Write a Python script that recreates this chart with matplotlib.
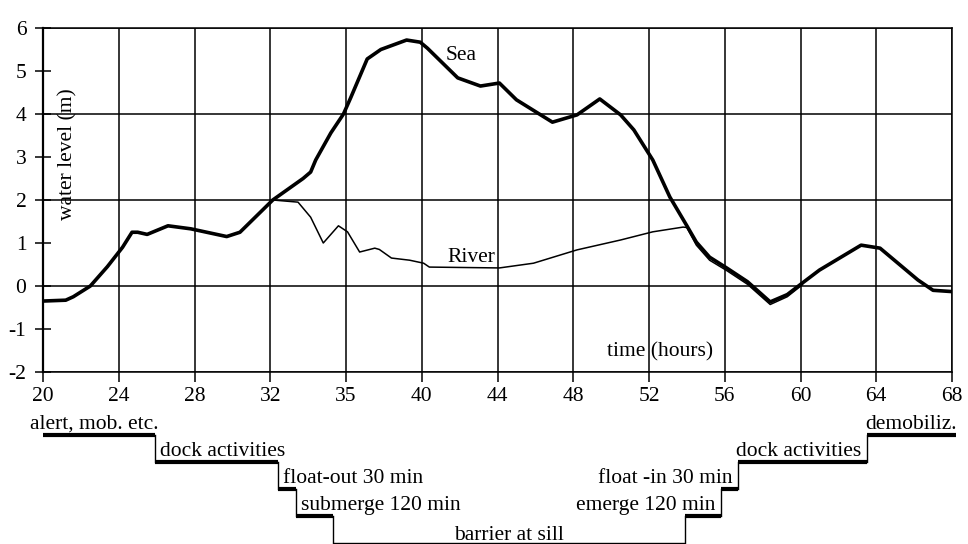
import matplotlib
matplotlib.use("Agg")
import matplotlib.pyplot as plt
import numpy as np

plt.rcParams['font.family'] = ['Liberation Serif', 'DejaVu Serif']
plt.rcParams['axes.unicode_minus'] = False

# x axis of the original is not linear in hours: ticks are equally spaced
tick_hours = [20, 24, 28, 32, 35, 40, 44, 48, 52, 56, 60, 64, 68]
y_ticks = [-2, -1, 0, 1, 2, 3, 4, 5, 6]
y_grid = [-2, 0, 2, 4, 6]

sea_hours = [20.0, 21.2, 21.6, 22.5, 23.4, 24.2, 24.7, 25.0, 25.5, 26.6, 27.8,
             29.7, 30.4, 32.1, 33.3, 33.6, 33.8, 34.4, 34.9, 35.3, 36.4, 37.3,
             39.0, 39.9, 40.3, 41.9, 43.1, 44.1, 45.0, 46.9, 48.2, 49.4, 50.5,
             51.2, 52.2, 53.1, 54.0, 54.5, 55.2, 56.1, 57.2, 58.4, 59.3, 60.1,
             61.0, 63.2, 64.2, 66.2, 67.0, 68.0]
sea_level = [-0.35, -0.33, -0.25, 0.0, 0.45, 0.9, 1.25, 1.25, 1.2, 1.4, 1.33,
             1.15, 1.25, 2.0, 2.5, 2.65, 2.93, 3.56, 4.0, 4.37, 5.28, 5.5,
             5.72, 5.67, 5.53, 4.84, 4.65, 4.72, 4.33, 3.81, 3.98, 4.35, 3.98,
             3.63, 2.93, 2.07, 1.4, 1.02, 0.67, 0.42, 0.1, -0.37, -0.2, 0.07,
             0.37, 0.95, 0.88, 0.14, -0.1, -0.13]

river_hours = [20.0, 21.2, 21.6, 22.5, 23.4, 24.2, 24.7, 25.0, 25.5, 26.6, 27.8,
               29.7, 30.4, 32.1, 33.1, 33.6, 34.1, 34.7, 35.1, 35.9, 36.9, 37.2,
               38.0, 39.2, 40.1, 40.4, 44.1, 45.9, 48.2, 50.5, 52.2, 53.8, 54.0,
               54.5, 55.2, 56.1, 57.2, 58.4, 59.3, 60.1]
river_level = [-0.35, -0.33, -0.25, 0.0, 0.45, 0.9, 1.25, 1.25, 1.2, 1.4, 1.33,
               1.15, 1.25, 2.0, 1.95, 1.6, 1.0, 1.4, 1.26, 0.79, 0.88, 0.85,
               0.65, 0.6, 0.53, 0.44, 0.42, 0.53, 0.84, 1.07, 1.26, 1.37, 1.36,
               0.95, 0.6, 0.36, 0.04, -0.43, -0.25, 0.03]

stage_names = ["alert, mob. etc.", "dock activities", "float-out 30 min",
               "submerge 120 min", "barrier at sill", "emerge 120 min",
               "float -in 30 min", "dock activities", "demobiliz."]
stage_start = [20.0, 25.9, 32.3, 33.0, 34.5, 53.9, 55.8, 56.7, 63.5]
stage_end = [25.9, 32.3, 33.0, 34.5, 53.9, 55.8, 56.7, 63.5, 68.2]
stage_step = [0, 1, 2, 3, 4, 3, 2, 1, 0]

FS = 15.5


def pos_ext(h):
    # hours -> position on the evenly spaced tick grid (a bit past the last tick allowed)
    h = np.asarray(h, dtype=float)
    p = np.interp(h, tick_hours, np.arange(len(tick_hours)))
    p = np.where(h > tick_hours[-1], len(tick_hours) - 1 + (h - tick_hours[-1]) / 4, p)
    return p


W, H = 968, 544
fig = plt.figure(figsize=(W / 100, H / 100), dpi=100)
ax = fig.add_axes([43 / W, 1 - 372 / H, 909 / W, 344 / H])
ax2 = fig.add_axes([43 / W, 0, 909 / W, 136 / H], sharex=ax)

# main chart
ax.set_xlim(0, len(tick_hours) - 1)
ax.set_ylim(-2, 6)
ax.set_xticks(np.arange(len(tick_hours)))
ax.set_xticklabels([str(t) for t in tick_hours])
ax.set_yticks(y_ticks)
ax.set_yticklabels([str(v) for v in y_ticks])
ax.grid(axis='x', color='black', lw=1.1)
for v in y_grid:
    ax.axhline(v, color='black', lw=1.1)
for s in ax.spines.values():
    s.set_linewidth(1.1)
ax.spines['left'].set_linewidth(1.6)
ax.tick_params(axis='x', direction='out', length=7, width=1.1, labelsize=FS, pad=4)
ax.tick_params(axis='y', direction='inout', length=12, width=1.1, labelsize=FS, pad=6)

ax.plot(pos_ext(sea_hours), sea_level, color='black', lw=2.6,
        solid_joinstyle='round', solid_capstyle='round')
ax.plot(pos_ext(river_hours), river_level, color='black', lw=1.1,
        solid_joinstyle='round')

ax.text(pos_ext(42.1), 5.35, "Sea", fontsize=FS, ha='center', va='center')
ax.text(pos_ext(42.6), 0.67, "River", fontsize=FS, ha='center', va='center')
ax.text(0.0275, 0.634, "water level (m)", transform=ax.transAxes, rotation=90,
        fontsize=FS, ha='center', va='center')
ax.text(0.679, 0.058, "time (hours)", transform=ax.transAxes,
        fontsize=FS, ha='center', va='center')

# schedule below
ax2.set_ylim(4.04, -1)
ax2.axis('off')
for i, name in enumerate(stage_names):
    x0, x1 = pos_ext(stage_start[i]), pos_ext(stage_end[i])
    lev = stage_step[i]
    lw = 1.0 if lev == 4 else 3.0
    ax2.plot([x0, x1], [lev, lev], color='black', lw=lw, clip_on=False,
             solid_capstyle='butt')
    if i < len(stage_names) - 1:
        ax2.plot([x1, x1], [lev, stage_step[i + 1]], color='black', lw=1.0,
                 clip_on=False)
    if i == 0:
        xy, dx, ha = (x0, lev), -9, 'left'
    elif i == len(stage_names) - 1:
        xy, dx, ha = (x1, lev), 1, 'right'
    elif lev == 4:
        xy, dx, ha = ((x0 + x1) / 2, lev), 0, 'center'
    elif i < 4:
        xy, dx, ha = (x0, lev), 4, 'left'
    else:
        xy, dx, ha = (x1, lev), -4, 'right'
    dy = 2 if lev == 4 else 4.5
    ax2.annotate(name, xy=xy, xytext=(dx, dy), textcoords='offset points',
                 ha=ha, va='baseline', fontsize=FS, annotation_clip=False)

fig.savefig("out.png", dpi=100)
